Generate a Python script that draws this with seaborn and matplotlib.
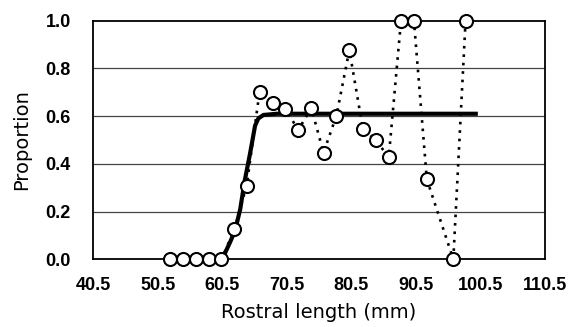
import matplotlib
matplotlib.use("Agg")
import matplotlib.pyplot as plt
import seaborn as sns
import pandas as pd

# observed proportions
length_mm = [52.4, 54.4, 56.4, 58.4, 60.4, 62.4, 64.3, 66.3, 68.3, 70.3, 72.3, 74.3,
             76.2, 78.2, 80.2, 82.3, 84.3, 86.3, 88.2, 90.2, 92.2, 96.3, 98.2]
proportion = [0.0, 0.0, 0.0, 0.0, 0.0, 0.126, 0.309, 0.703, 0.656, 0.629, 0.542, 0.635,
              0.447, 0.602, 0.877, 0.546, 0.5, 0.427, 1.0, 1.0, 0.335, 0.0, 1.0]

# fitted curve
fit_x = [60.5, 61.7, 62.5, 63.3, 64.0, 64.8, 65.6, 66.1, 66.9, 69.0, 100.1]
fit_y = [0.0, 0.07, 0.12, 0.21, 0.33, 0.44, 0.56, 0.59, 0.605, 0.61, 0.61]

x_ticks = [40.5, 50.5, 60.5, 70.5, 80.5, 90.5, 100.5, 110.5]
y_ticks = [0.0, 0.2, 0.4, 0.6, 0.8, 1.0]

obs = pd.DataFrame({"x": length_mm, "y": proportion})
fit = pd.DataFrame({"x": fit_x, "y": fit_y})

sns.set_style("white")
plt.rcParams["font.family"] = ["Liberation Sans", "DejaVu Sans"]
plt.rcParams["text.color"] = "black"
plt.rcParams["axes.labelcolor"] = "black"
plt.rcParams["xtick.color"] = "black"
plt.rcParams["ytick.color"] = "black"

fig = plt.figure(figsize=(5.68, 3.27), dpi=100)
ax = fig.add_axes([93 / 568, 1 - 259.3 / 327, (545 - 93) / 568, (259.3 - 20.7) / 327])

for yv in y_ticks[1:-1]:
    ax.axhline(yv, color="#444444", lw=0.9, zorder=0)

sns.lineplot(data=obs, x="x", y="y", ax=ax, sort=False, estimator=None,
             color="black", lw=1.9, linestyle=(0, (1, 2.2)), zorder=2)
sns.lineplot(data=fit, x="x", y="y", ax=ax, sort=False, estimator=None,
             color="black", lw=3.0, zorder=3, solid_capstyle="butt")
sns.scatterplot(data=obs, x="x", y="y", ax=ax, marker="o", s=88,
                facecolor="white", edgecolor="black", linewidth=1.5,
                zorder=4, clip_on=False)

ax.set_xlim(40.5, 110.5)
ax.set_ylim(0, 1.0)
ax.set_xticks(x_ticks)
ax.set_xticklabels([f"{v:.1f}" for v in x_ticks])
ax.set_yticks(y_ticks)
ax.set_yticklabels([f"{v:.1f}" for v in y_ticks])
ax.tick_params(axis="both", direction="in", length=4, width=1, color="black",
               labelcolor="black", labelsize=13)
ax.tick_params(axis="x", pad=13)
ax.tick_params(axis="y", pad=16)
for lab in ax.get_xticklabels() + ax.get_yticklabels():
    lab.set_fontweight("bold")

for sp in ax.spines.values():
    sp.set_color("black")
    sp.set_linewidth(1.3)
    sp.set_visible(True)

ax.set_xlabel("Rostral length (mm)", fontsize=14, family=["DejaVu Sans"], color="black")
ax.set_ylabel("Proportion", fontsize=14, family=["DejaVu Sans"], color="black")
ax.xaxis.set_label_coords(0.5, (259.3 - 313) / 238.6)
ax.xaxis.label.set_va("center")
ax.yaxis.set_label_coords((22 - 93) / 452, 0.5)
ax.yaxis.label.set_va("center")

fig.savefig("out.png", dpi=100)
